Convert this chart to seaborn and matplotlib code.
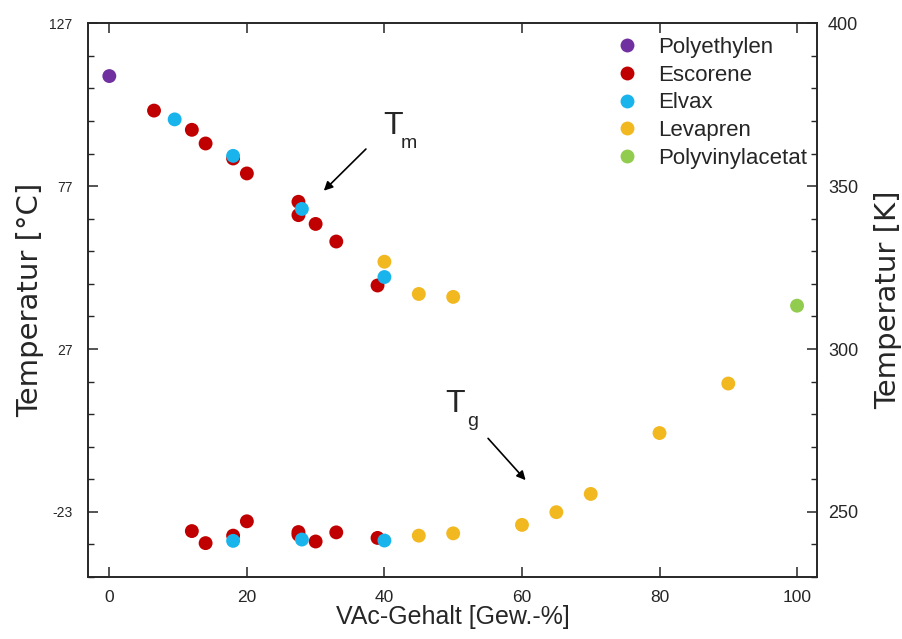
import numpy as np
import pandas as pd
import matplotlib
matplotlib.use("Agg")
import matplotlib.pyplot as plt
from matplotlib.ticker import FixedLocator, NullLocator
import seaborn as sns

# ---------------- data ----------------
series_names = ["Polyethylen", "Escorene", "Elvax", "Levapren", "Polyvinylacetat"]
series_colors = ["#7030A0", "#C00000", "#19B4EC", "#F2B820", "#92CC4E"]

pe_x = [0]
pe_t = [110.8]

esc_tm_x = [6.5, 12, 14, 18, 20, 27.5, 27.5, 30, 33, 39]
esc_tm_t = [100.2, 94.3, 90.1, 85.5, 80.9, 72.2, 68.1, 65.4, 60.0, 46.5]
esc_tg_x = [12, 14, 18, 20, 27.5, 27.5, 30, 33, 39]
esc_tg_t = [-28.9, -32.6, -30.3, -25.9, -29.2, -30.0, -32.1, -29.3, -31.0]

elv_tm_x = [9.5, 18, 28, 40]
elv_tm_t = [97.5, 86.3, 70.0, 49.1]
elv_tg_x = [18, 28, 40]
elv_tg_t = [-31.9, -31.5, -31.8]

lev_tm_x = [40, 45, 50]
lev_tm_t = [53.8, 43.9, 43.0]
lev_tg_x = [45, 50, 60, 65, 70, 80, 90]
lev_tg_t = [-30.3, -29.6, -27.0, -23.1, -17.5, 1.2, 16.4]

pvac_x = [100]
pvac_t = [40.3]

left_ticks = [-23, 27, 77, 127]
right_ticks = [250, 300, 350, 400]
x_ticks = [0, 20, 40, 60, 80, 100]
kelvin_offset = 273

# ---------------- frame ----------------
rows = []
def add(name, xs, ts):
    for xv, tv in zip(xs, ts):
        rows.append({"VAc": xv, "T": tv, "Material": name})

add("Polyethylen", pe_x, pe_t)
add("Escorene", esc_tm_x, esc_tm_t)
add("Escorene", esc_tg_x, esc_tg_t)
add("Elvax", elv_tm_x, elv_tm_t)
add("Elvax", elv_tg_x, elv_tg_t)
add("Levapren", lev_tm_x, lev_tm_t)
add("Levapren", lev_tg_x, lev_tg_t)
add("Polyvinylacetat", pvac_x, pvac_t)
df = pd.DataFrame(rows)

sns.set_style("ticks")
plt.rcParams["font.family"] = ["Liberation Sans", "DejaVu Sans"]
plt.rcParams["axes.linewidth"] = 1.2

fig = plt.figure(figsize=(9.02, 6.39), dpi=100)
ax = fig.add_axes([88 / 902, 1 - 577 / 639, (817 - 88) / 902, (577 - 23.3) / 639])

sns.scatterplot(data=df, x="VAc", y="T", hue="Material", hue_order=series_names,
                palette=dict(zip(series_names, series_colors)), s=100,
                linewidth=0, ax=ax, legend=True, zorder=3)

ax.set_xlim(-3.1, 102.9)
ax.set_ylim(-43, 127)
ax.xaxis.set_major_locator(FixedLocator(x_ticks))
ax.xaxis.set_minor_locator(NullLocator())
ax.yaxis.set_major_locator(FixedLocator(left_ticks))
ax.yaxis.set_minor_locator(FixedLocator(list(np.arange(-43, 128, 10))))
ax.set_xticklabels([str(v) for v in x_ticks])
ax.set_yticklabels([str(v) for v in left_ticks])

ax.tick_params(axis="x", which="major", direction="in", length=7, width=1.1,
               top=True, bottom=True, labelsize=12.5, pad=9)
ax.tick_params(axis="y", which="major", direction="in", length=7, width=1.1,
               left=True, right=False, labelsize=10, pad=11)
ax.tick_params(axis="y", which="minor", direction="in", length=4, width=1.0,
               left=True, right=False)

ax.set_xlabel("VAc-Gehalt [Gew.-%]", fontsize=18, labelpad=0.5)
ax.set_ylabel("Temperatur [°C]", fontsize=21, family="DejaVu Sans", labelpad=4)

ax2 = ax.twinx()
ax2.set_ylim(ax.get_ylim()[0] + kelvin_offset, ax.get_ylim()[1] + kelvin_offset)
ax2.yaxis.set_major_locator(FixedLocator(right_ticks))
ax2.yaxis.set_minor_locator(FixedLocator(list(np.arange(230, 401, 10))))
ax2.set_yticklabels([str(v) for v in right_ticks])
ax2.tick_params(axis="y", which="major", direction="in", length=7, width=1.1,
                labelsize=13, pad=8)
ax2.tick_params(axis="y", which="minor", direction="in", length=4, width=1.0)
ax2.set_ylabel("Temperatur [K]", fontsize=21, family="DejaVu Sans", labelpad=11)
for sp in ax2.spines.values():
    sp.set_linewidth(1.2)

# legend
sns.move_legend(ax, "upper left", bbox_to_anchor=(616 / 902, 1 - 37 / 639),
                bbox_transform=fig.transFigure, title=None, frameon=False,
                fontsize=16, borderpad=0, handlelength=1.0, handletextpad=0.9,
                labelspacing=0.3, borderaxespad=0)

# annotations
ax.annotate("", xy=(30.9, 75.0), xytext=(37.6, 89.0),
            arrowprops=dict(arrowstyle="-|>", color="black", lw=1.2, mutation_scale=13))
ax.text(41.3, 95.5, "T", fontsize=23, ha="center", va="center")
ax.text(43.6, 90.2, "m", fontsize=14, ha="center", va="center")

ax.annotate("", xy=(60.8, -13.9), xytext=(54.8, 0.2),
            arrowprops=dict(arrowstyle="-|>", color="black", lw=1.2, mutation_scale=13))
ax.text(50.3, 10.2, "T", fontsize=23, ha="center", va="center")
ax.text(52.8, 4.8, "g", fontsize=14, ha="center", va="center")

fig.savefig("out.png", dpi=100)
